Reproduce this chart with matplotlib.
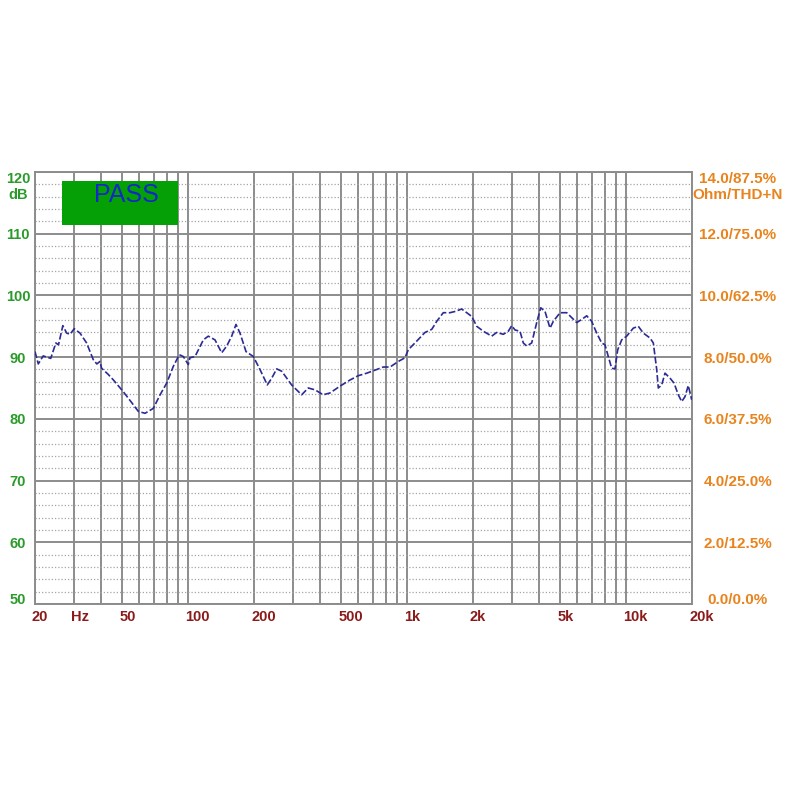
import matplotlib
matplotlib.use('Agg')
import matplotlib.pyplot as plt
import matplotlib.transforms as mtransforms
from matplotlib.patches import Rectangle
from matplotlib.ticker import NullLocator, MultipleLocator

plt.rcParams['font.family'] = ['Liberation Sans', 'DejaVu Sans']

# ---- data ----
freq_hz = [20, 20.7, 21.8, 23.6, 24.9, 25.6, 26.8, 27.9, 28.9, 30.2,
           32.1, 34.4, 36.9, 38.3, 39.6, 40.3, 43.2, 45.6, 50.6, 56.2,
           59.3, 63.6, 69.4, 74.5, 79.9, 85.6, 91.2, 95.1, 100.2, 102,
           107.6, 117.4, 123.7, 132.7, 142.4, 150.1, 158.2, 165.5, 172.6, 183.9,
           198.6, 213, 230, 241, 254, 268, 297, 330, 354, 380,
           414, 445, 494, 549, 599, 654, 727, 779, 836, 912,
           978, 1013, 1107, 1207, 1296, 1366, 1463, 1570, 1655, 1776,
           1872, 1973, 2080, 2229, 2434, 2566, 2750, 2900, 3004, 3111,
           3278, 3394, 3518, 3707, 3908, 4076, 4266, 4494, 4653, 4994,
           5358, 5951, 6271, 6610, 6966, 7341, 7737, 8012, 8296, 8598,
           8900, 9158, 9550, 10066, 10790, 11372, 11986, 12860, 13316, 13800,
           14034, 14544, 15057, 15870, 16554, 17318, 17948, 18581, 19236, 19940]
spl_db = [90.9, 88.9, 90.2, 89.8, 92.3, 92.0, 95.1, 93.9, 93.7, 94.6,
          93.9, 92.3, 89.6, 88.9, 89.3, 88.2, 87.2, 86.3, 84.4, 82.3,
          81.2, 80.9, 81.7, 83.9, 85.8, 88.5, 90.4, 90.1, 88.8, 89.9,
          90.1, 92.8, 93.4, 92.8, 90.7, 91.8, 93.4, 95.3, 93.9, 90.9,
          90.1, 88.0, 85.5, 86.6, 88.1, 87.7, 85.5, 83.9, 85.0, 84.7,
          83.9, 84.2, 85.3, 86.3, 87.0, 87.4, 88.0, 88.4, 88.4, 89.3,
          89.9, 91.2, 92.6, 94.0, 94.5, 95.8, 97.2, 97.2, 97.4, 97.8,
          97.2, 96.6, 95.0, 94.2, 93.4, 94.0, 93.7, 94.2, 95.1, 94.4,
          94.2, 92.3, 91.8, 92.3, 95.6, 98.0, 97.4, 94.7, 95.8, 97.2,
          97.2, 95.6, 96.1, 96.7, 95.8, 93.9, 92.3, 92.0, 90.1, 88.2,
          88.1, 91.2, 92.8, 93.4, 94.7, 95.0, 93.9, 93.1, 92.3, 88.0,
          85.0, 85.5, 87.4, 86.6, 85.8, 83.9, 82.8, 83.6, 85.4, 83.1]

x_label_vals = [20, 30, 50, 100, 200, 500, 1000, 2000, 5000, 10000, 20000]
x_label_text = ['20', 'Hz', '50', '100', '200', '500', '1k', '2k', '5k', '10k', '20k']
db_ticks = [50, 60, 70, 80, 90, 100, 110, 120]
ohm_ticks = [0.0, 2.0, 4.0, 6.0, 8.0, 10.0, 12.0, 14.0]
thd_ticks = [0.0, 12.5, 25.0, 37.5, 50.0, 62.5, 75.0, 87.5]
status_text = 'PASS'

# ---- styles ----
grid_col = '#8c8c8c'
green = '#2a9a2a'
orange = '#e8841e'
darkred = '#8b1a1a'
curve_col = '#2b2b96'

fig = plt.figure(figsize=(8, 8), dpi=100)
ax = fig.add_axes([35 / 800, 1 - 604 / 800, 657 / 800, 432 / 800])
ax.set_xscale('log')
ax.set_xlim(20, 20000)
ax.set_ylim(50, 120)

# vertical grid positions (every 1-9 multiple)
grid_freqs = [m * 10 ** e for e in (1, 2, 3, 4) for m in range(1, 10)
              if 20 <= m * 10 ** e <= 20000]
lab_map = dict(zip(x_label_vals, x_label_text))
ax.set_xticks(grid_freqs, [lab_map.get(f, '') for f in grid_freqs])
ax.xaxis.set_minor_locator(NullLocator())

ax.set_yticks(db_ticks)
ax.yaxis.set_minor_locator(MultipleLocator(2))

ax.grid(True, axis='x', which='major', color=grid_col, lw=1.4)
ax.grid(True, axis='y', which='major', color=grid_col, lw=1.4)
ax.grid(True, axis='y', which='minor', color='#a4a4a4', lw=0.9, ls=(0, (1, 1.6)))

for s in ax.spines.values():
    s.set_color(grid_col)
    s.set_linewidth(1.4)

ax.tick_params(axis='both', which='both', length=0)
ax.tick_params(axis='x', pad=4.0, labelcolor=darkred, labelsize=10.5)
ax.tick_params(axis='y', pad=12.2, labelcolor=green, labelsize=10.5)

# left labels
ylabels = [str(v) for v in db_ticks]
ylabels[-1] = ylabels[-1] + '\ndB'
ax.set_yticklabels(ylabels)
for lab in ax.get_yticklabels():
    lab.set_fontweight('bold')
    lab.set_ha('center')
ax.get_yticklabels()[-1].set_va('top')
ax.get_yticklabels()[0].set_va('baseline')

offset = mtransforms.ScaledTranslation(-3 / 100, 0, fig.dpi_scale_trans)
for lab in ax.get_xticklabels():
    lab.set_fontweight('bold')
    lab.set_ha('left')
    lab.set_transform(lab.get_transform() + offset)

# right labels
ax2 = ax.twinx()
ax2.set_ylim(50, 120)
rlabels = [f'{o:.1f}/{t:.1f}%' for o, t in zip(ohm_ticks, thd_ticks)]
rlabels[-1] = rlabels[-1] + '\nOhm/THD+N'
ax2.set_yticks(db_ticks, rlabels)
ax2.tick_params(axis='y', length=0, pad=33, labelcolor=orange, labelsize=11)
for lab in ax2.get_yticklabels():
    lab.set_fontweight('bold')
    lab.set_ha('center')
ax2.get_yticklabels()[-1].set_va('top')
ax2.get_yticklabels()[0].set_va('baseline')
for s in ax2.spines.values():
    s.set_visible(False)

# PASS box
ax.add_patch(Rectangle((0.041, 0.877), 0.1766, 0.102, transform=ax.transAxes,
                       facecolor='#05a005', edgecolor='none', zorder=3))
ax.text(0.1385, 0.946, status_text, transform=ax.transAxes, ha='center', va='center',
        fontsize=18, color='#1428c8', zorder=4)

# curve
ax.plot(freq_hz, spl_db, color=curve_col, lw=1.2, ls=(0, (4, 1.5)), zorder=5)

fig.savefig('out.png', dpi=100, facecolor='white')
